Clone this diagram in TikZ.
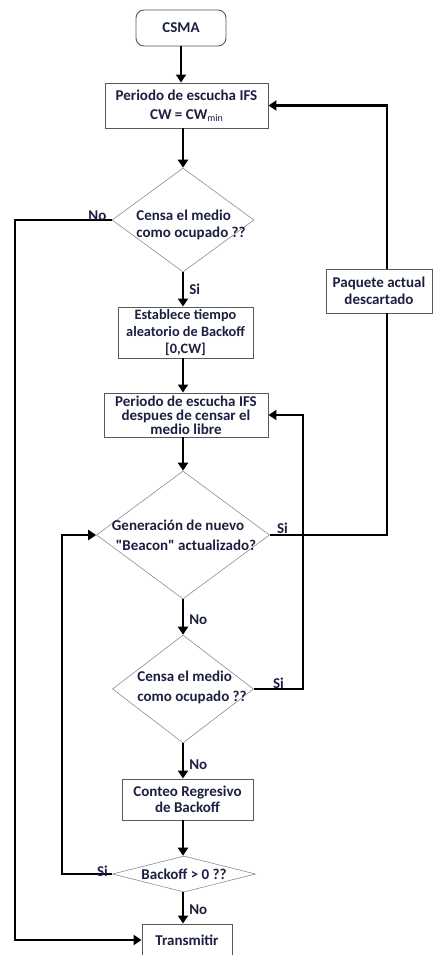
\documentclass[tikz,border=0pt]{standalone}
\usepackage{fontspec}
\setmainfont{Carlito}[Ligatures=TeXOff]
\usetikzlibrary{arrows.meta,shapes.geometric}
\definecolor{ink}{RGB}{28,32,64}
\begin{document}
\begin{tikzpicture}[x=1pt,y=-1pt,
  every node/.style={font=\fontsize{15}{17}\selectfont\bfseries, text=ink},
  procbox/.style={draw=black!65, line width=0.9pt, fill=white, inner sep=0pt, align=center},
  decision/.style={diamond, draw=black!45, line width=0.6pt, inner sep=0pt},
  qtext/.style={align=left, text=ink, inner sep=0pt},
  flow/.style={line width=2.6pt, draw=black},
  arr/.style={flow, -{Triangle[length=8pt,width=10pt]}},
  tag/.style={inner sep=1pt, font=\fontsize{15}{17}\selectfont\bfseries}]

\useasboundingbox (0,0) rectangle (435,955);

% process boxes
\node[procbox, rounded corners=8pt, minimum width=90, minimum height=36] (csma) at (181,28) {CSMA};
\node[procbox, minimum width=163, minimum height=45, font=\fontsize{15}{19}\selectfont\bfseries] (ifs) at (186.5,105.5)
  {Periodo de escucha IFS\\CW = CW\raisebox{-2pt}{\fontsize{10}{10}\selectfont\mdseries min}};
\node[procbox, minimum width=135, minimum height=51, font=\fontsize{14.3}{17}\selectfont\bfseries] (est) at (185.5,332.5)
  {Establece tiempo\\aleatorio de Backoff\\{[0,CW]}};
\node[procbox, minimum width=164, minimum height=44, font=\fontsize{15}{13.8}\selectfont\bfseries] (ifs2) at (186,415)
  {Periodo de escucha IFS\\despues de censar el\\medio libre};
\node[procbox, minimum width=106, minimum height=44] (paq) at (379,291)
  {Paquete actual\\descartado};
\node[procbox, minimum width=131, minimum height=41, font=\fontsize{15}{16}\selectfont\bfseries] (cont) at (187.5,799.5)
  {Conteo Regresivo\\de Backoff};
\node[procbox, minimum width=90, minimum height=32] (tx) at (187,940) {Transmitir};

% decisions (question text set left-aligned, as a block)
\node[decision, minimum width=142, minimum height=104,
  label={[qtext, font=\fontsize{15}{17.5}\selectfont\bfseries, xshift=8pt, yshift=-5pt]center:Censa el medio\\como ocupado ??}] (d1) at (183,220) {};
\node[decision, minimum width=173, minimum height=128,
  label={[qtext, font=\fontsize{15}{20}\selectfont\bfseries, xshift=1pt]center:Generación de nuevo\\\hspace*{4pt}"Beacon" actualizado?}] (d2) at (183,535) {};
\node[decision, minimum width=141, minimum height=108,
  label={[qtext, font=\fontsize{15}{20}\selectfont\bfseries, xshift=9pt, yshift=2pt]center:Censa el medio\\como ocupado ??}] (d3) at (183,689) {};
\node[decision, minimum width=143, minimum height=36,
  label={[qtext]center:Backoff > 0 ??}] (d4) at (184,874) {};

% corner columns of the return lines
\coordinate (xa) at (15,0);
\coordinate (xb) at (62,0);
\coordinate (xc) at (303,0);
\coordinate (xd) at (387,0);

% main flow
\draw[arr] (csma.south) -- (csma.south |- ifs.north);
\draw[arr] (ifs.south -| d1.north) -- (d1.north);
\draw[arr] (d1.south) -- (d1.south |- est.north) node[tag, midway, right, xshift=4pt] {Si};
\draw[arr] (est.south -| d1.south) -- (d1.south |- ifs2.north);
\draw[arr] (ifs2.south -| d2.north) -- (d2.north);
\draw[arr] (d2.south) -- (d3.north) node[tag, midway, right, xshift=4pt, yshift=-3pt] {No};
\draw[arr] (d3.south) -- (d3.south |- cont.north) node[tag, midway, right, xshift=4pt, yshift=-4pt] {No};
\draw[arr] (cont.south -| d3.south) -- (d3.south |- d4.north);
\draw[arr] (d4.south -| d3.south) -- (d3.south |- tx.north) node[tag, midway, right, xshift=4pt, yshift=-2pt] {No};

% branches
\draw[arr] (d1.west) node[tag, anchor=south east, xshift=-3pt, yshift=-3pt] {No}
  -- (d1.west -| xa) -- (xa |- tx.west) -- (tx.west);
\draw[flow] (d2.east) node[tag, anchor=south west, xshift=5pt, yshift=-1pt] {Si}
  -- (d2.east -| xd) -- (xd |- paq.south);
\draw[arr] (xd |- paq.north) -- (xd |- ifs.east) -- (ifs.east);
\draw[arr] (d3.east) node[tag, anchor=south west, xshift=17pt, yshift=-2pt] {Si}
  -- (d3.east -| xc) -- (xc |- ifs2.east) -- (ifs2.east);
\draw[arr] (d4.west) node[tag, anchor=south east, xshift=-2pt, yshift=-5pt] {Si}
  -- (d4.west -| xb) -- (xb |- d2.west) -- (d2.west);
\end{tikzpicture}
\end{document}
